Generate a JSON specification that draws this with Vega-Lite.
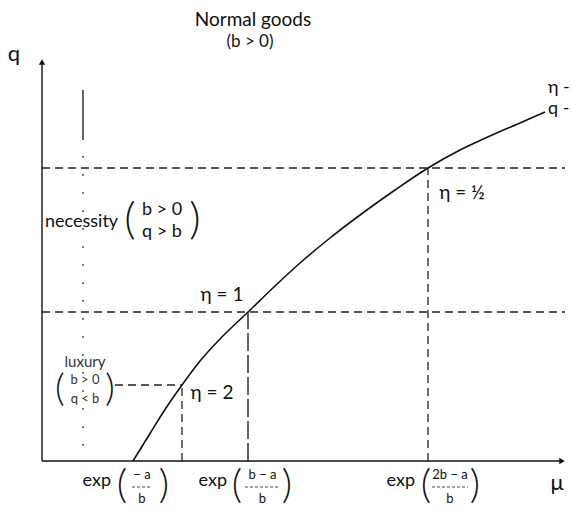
{
  "$schema": "https://vega.github.io/schema/vega-lite/v6.json",
  "width": 572,
  "height": 509,
  "autosize": {"type": "fit", "contains": "padding"},
  "padding": 0,
  "background": "white",
  "config": {"view": {"stroke": null}, "text": {"font": "Lato", "color": "#111"}},
  "datasets": {
    "curve": [
      {"mu": 1.82, "q": 0.0},
      {"mu": 2.16, "q": 0.55},
      {"mu": 2.46, "q": 1.03},
      {"mu": 2.8, "q": 1.52},
      {"mu": 3.16, "q": 2.0},
      {"mu": 3.56, "q": 2.44},
      {"mu": 4.12, "q": 2.98},
      {"mu": 4.66, "q": 3.5},
      {"mu": 5.16, "q": 3.96},
      {"mu": 5.76, "q": 4.46},
      {"mu": 6.36, "q": 4.92},
      {"mu": 7.06, "q": 5.42},
      {"mu": 7.72, "q": 5.86},
      {"mu": 8.36, "q": 6.22},
      {"mu": 8.96, "q": 6.5},
      {"mu": 9.56, "q": 6.76},
      {"mu": 10.06, "q": 6.98}
    ],
    "axes": [
      {"mu": 0, "q": 0, "mu2": 0, "q2": 7.98},
      {"mu": 0, "q": 0, "mu2": 10.4, "q2": 0}
    ],
    "guides": [
      {"mu": 0, "q": 5.86, "mu2": 10.46, "q2": 5.86},
      {"mu": 0, "q": 2.98, "mu2": 10.46, "q2": 2.98},
      {"mu": 1.46, "q": 1.52, "mu2": 2.8, "q2": 1.52},
      {"mu": 2.8, "q": 0, "mu2": 2.8, "q2": 1.52},
      {"mu": 7.72, "q": 0, "mu2": 7.72, "q2": 5.86}
    ],
    "unitGuide": [
      {"mu": 4.12, "q": 0, "mu2": 4.12, "q2": 2.98}
    ],
    "divider": [
      {"mu": 0.82, "q": 7.42, "mu2": 0.82, "q2": 6.42}
    ],
    "dots": [
      {"mu": 0.82, "q": 6.1, "mu2": 0.82, "q2": 0.12}
    ],
    "arrowUp": [{"mu": 0, "q": 7.98}],
    "arrowRight": [{"mu": 10.4, "q": 0}],
    "bars": [
      {"mu": 1.8, "q": -0.52, "mu2": 2.2, "q2": -0.52},
      {"mu": 4.06, "q": -0.52, "mu2": 4.76, "q2": -0.52},
      {"mu": 7.8, "q": -0.52, "mu2": 8.52, "q2": -0.52}
    ],
    "title": [
      {"mu": 4.22, "q": 8.82, "label": "Normal goods"}
    ],
    "subtitle": [
      {"mu": 4.16, "q": 8.38, "label": "(b > 0)"}
    ],
    "axisNames": [
      {"mu": -0.56, "q": 8.14, "label": "q"},
      {"mu": 10.3, "q": -0.44, "label": "μ"}
    ],
    "key": [
      {"mu": 10.12, "q": 7.46, "label": "η -"},
      {"mu": 10.12, "q": 7.04, "label": "q -"}
    ],
    "elasticity": [
      {"mu": 3.6, "q": 3.32, "label": "η = 1"},
      {"mu": 3.4, "q": 1.36, "label": "η = 2"},
      {"mu": 8.4, "q": 5.36, "label": "η = ½"}
    ],
    "classes": [
      {"mu": 0.06, "q": 4.78, "label": "necessity"}
    ],
    "luxury": [
      {"mu": 0.86, "q": 1.98, "label": "luxury"}
    ],
    "conditions": [
      {"mu": 2.4, "q": 5.02, "label": "b > 0"},
      {"mu": 2.4, "q": 4.58, "label": "q > b"}
    ],
    "smallConditions": [
      {"mu": 0.86, "q": 1.62, "label": "b > 0"},
      {"mu": 0.86, "q": 1.24, "label": "q < b"}
    ],
    "bigParens": [
      {"mu": 1.76, "q": 4.8, "label": "("},
      {"mu": 3.06, "q": 4.8, "label": ")"}
    ],
    "smallParens": [
      {"mu": 0.36, "q": 1.43, "label": "("},
      {"mu": 1.36, "q": 1.43, "label": ")"}
    ],
    "expWords": [
      {"mu": 1.38, "q": -0.4, "label": "exp"},
      {"mu": 3.7, "q": -0.4, "label": "exp"},
      {"mu": 7.46, "q": -0.4, "label": "exp"}
    ],
    "expParens": [
      {"mu": 1.6, "q": -0.5, "label": "("},
      {"mu": 2.44, "q": -0.5, "label": ")"},
      {"mu": 3.9, "q": -0.5, "label": "("},
      {"mu": 4.9, "q": -0.5, "label": ")"},
      {"mu": 7.68, "q": -0.5, "label": "("},
      {"mu": 8.66, "q": -0.5, "label": ")"}
    ],
    "fractions": [
      {"mu": 2.0, "q": -0.28, "label": "− a"},
      {"mu": 4.41, "q": -0.28, "label": "b − a"},
      {"mu": 8.16, "q": -0.28, "label": "2b − a"},
      {"mu": 2.0, "q": -0.76, "label": "b"},
      {"mu": 4.41, "q": -0.76, "label": "b"},
      {"mu": 8.16, "q": -0.76, "label": "b"}
    ]
  },
  "encoding": {
    "x": {"field": "mu", "type": "quantitative", "axis": null, "scale": {"domain": [-0.84, 10.6], "nice": false, "zero": false}},
    "y": {"field": "q", "type": "quantitative", "axis": null, "scale": {"domain": [-0.96, 9.22], "nice": false, "zero": false}}
  },
  "layer": [
    {
      "data": {"name": "guides"},
      "mark": {"type": "rule", "color": "#222", "strokeWidth": 1.3, "strokeDash": [8, 5]},
      "encoding": {"x2": {"field": "mu2"}, "y2": {"field": "q2"}}
    },
    {
      "data": {"name": "unitGuide"},
      "mark": {"type": "rule", "color": "#222", "strokeWidth": 1.4, "strokeDash": [18, 4]},
      "encoding": {"x2": {"field": "mu2"}, "y2": {"field": "q2"}}
    },
    {
      "data": {"name": "divider"},
      "mark": {"type": "rule", "color": "#333", "strokeWidth": 1.5},
      "encoding": {"x2": {"field": "mu2"}, "y2": {"field": "q2"}}
    },
    {
      "data": {"name": "dots"},
      "mark": {"type": "rule", "color": "#555", "strokeWidth": 1.5, "strokeDash": [2, 16]},
      "encoding": {"x2": {"field": "mu2"}, "y2": {"field": "q2"}}
    },
    {
      "data": {"name": "axes"},
      "mark": {"type": "rule", "color": "#111", "strokeWidth": 1.4},
      "encoding": {"x2": {"field": "mu2"}, "y2": {"field": "q2"}}
    },
    {
      "data": {"name": "arrowUp"},
      "mark": {"type": "point", "shape": "triangle-up", "filled": true, "color": "#111", "size": 40, "opacity": 1}
    },
    {
      "data": {"name": "arrowRight"},
      "mark": {"type": "point", "shape": "triangle-right", "filled": true, "color": "#111", "size": 40, "opacity": 1}
    },
    {
      "data": {"name": "curve"},
      "mark": {"type": "line", "color": "#111", "strokeWidth": 1.6, "interpolate": "monotone"},
      "encoding": {"order": {"field": "mu"}}
    },
    {
      "data": {"name": "bars"},
      "mark": {"type": "rule", "color": "#444", "strokeWidth": 1, "strokeDash": [3, 2]},
      "encoding": {"x2": {"field": "mu2"}, "y2": {"field": "q2"}}
    },
    {
      "data": {"name": "title"},
      "mark": {"type": "text", "fontSize": 19, "align": "center", "baseline": "middle"},
      "encoding": {"text": {"field": "label"}}
    },
    {
      "data": {"name": "subtitle"},
      "mark": {"type": "text", "fontSize": 17, "align": "center", "baseline": "middle"},
      "encoding": {"text": {"field": "label"}}
    },
    {
      "data": {"name": "axisNames"},
      "mark": {"type": "text", "fontSize": 22, "align": "center", "baseline": "middle"},
      "encoding": {"text": {"field": "label"}}
    },
    {
      "data": {"name": "key"},
      "mark": {"type": "text", "fontSize": 18, "align": "left", "baseline": "middle"},
      "encoding": {"text": {"field": "label"}}
    },
    {
      "data": {"name": "elasticity"},
      "mark": {"type": "text", "fontSize": 19, "align": "center", "baseline": "middle"},
      "encoding": {"text": {"field": "label"}}
    },
    {
      "data": {"name": "classes"},
      "mark": {"type": "text", "fontSize": 18, "align": "left", "baseline": "middle"},
      "encoding": {"text": {"field": "label"}}
    },
    {
      "data": {"name": "luxury"},
      "mark": {"type": "text", "fontSize": 15, "align": "center", "baseline": "middle", "color": "#333"},
      "encoding": {"text": {"field": "label"}}
    },
    {
      "data": {"name": "conditions"},
      "mark": {"type": "text", "fontSize": 18, "align": "center", "baseline": "middle"},
      "encoding": {"text": {"field": "label"}}
    },
    {
      "data": {"name": "smallConditions"},
      "mark": {"type": "text", "fontSize": 13, "align": "center", "baseline": "middle", "color": "#333"},
      "encoding": {"text": {"field": "label"}}
    },
    {
      "data": {"name": "bigParens"},
      "mark": {"type": "text", "fontSize": 44, "fontWeight": 300, "align": "center", "baseline": "middle"},
      "encoding": {"text": {"field": "label"}}
    },
    {
      "data": {"name": "smallParens"},
      "mark": {"type": "text", "fontSize": 38, "fontWeight": 300, "align": "center", "baseline": "middle"},
      "encoding": {"text": {"field": "label"}}
    },
    {
      "data": {"name": "expWords"},
      "mark": {"type": "text", "fontSize": 18, "align": "right", "baseline": "middle"},
      "encoding": {"text": {"field": "label"}}
    },
    {
      "data": {"name": "expParens"},
      "mark": {"type": "text", "fontSize": 40, "fontWeight": 300, "align": "center", "baseline": "middle"},
      "encoding": {"text": {"field": "label"}}
    },
    {
      "data": {"name": "fractions"},
      "mark": {"type": "text", "fontSize": 13, "align": "center", "baseline": "middle"},
      "encoding": {"text": {"field": "label"}}
    }
  ]
}
